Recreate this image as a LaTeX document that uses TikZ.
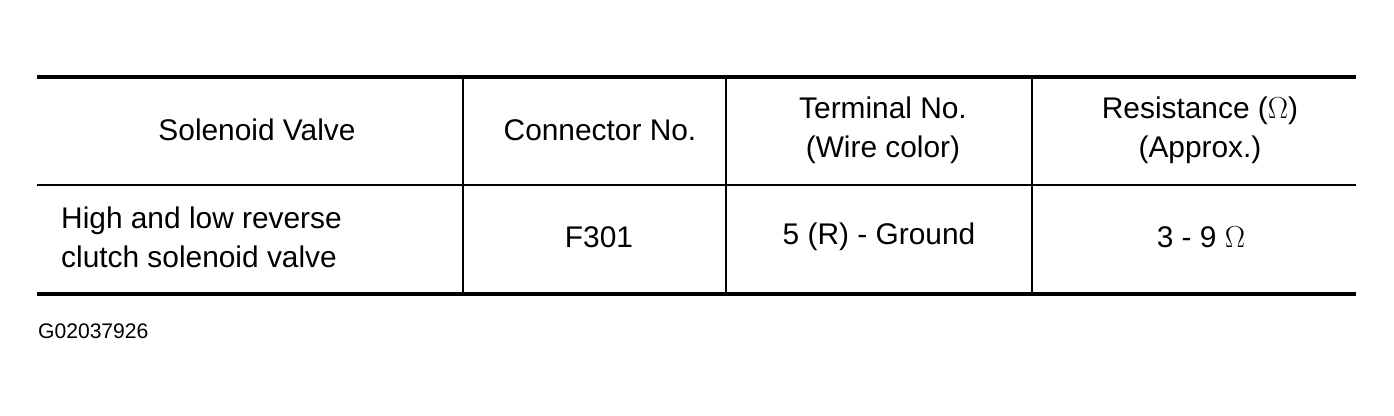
\documentclass[tikz,border=0pt]{standalone}
\usepackage{fontspec}
\setmainfont{Liberation Sans}
\begin{document}
\begin{tikzpicture}[x=0.02cm,y=-0.02cm,
  cell/.style={font=\fontsize{17}{22}\selectfont,align=center},
  thick rule/.style={line width=2.2pt},
  thin rule/.style={line width=0.9pt}]
\useasboundingbox (0,0) rectangle (1394,416);
% rules
\draw[thick rule] (37,77) -- (1356,77);
\draw[thin rule] (37,185) -- (1356,185);
\draw[thick rule] (37,294) -- (1356,294);
\foreach \xc in {463,726,1032}
  \draw[thin rule] (\xc,77) -- (\xc,294);
% header
\node[cell] (hvalve) at (257,130) {Solenoid Valve};
\node[cell] (hconn) at (600,130) {Connector No.};
\node[cell] (hterm) at (883,130) {Terminal No.\\(Wire color)};
\node[cell] (hres) at (1200,130) {Resistance ($\Omega$)\\(Approx.)};
% data row
\node[cell,align=left,anchor=west] (valve) at (55,237) {High and low reverse\\clutch solenoid valve};
\node[cell] (conn) at (599,237) {F301};
\node[cell] (term) at (879,237) {5 (R) - Ground};
\node[cell] (res) at (1201,237) {3 - 9 $\Omega$};
\node[font=\fontsize{12}{14}\selectfont,anchor=west] (code) at (32,331) {G02037926};
\end{tikzpicture}
\end{document}
